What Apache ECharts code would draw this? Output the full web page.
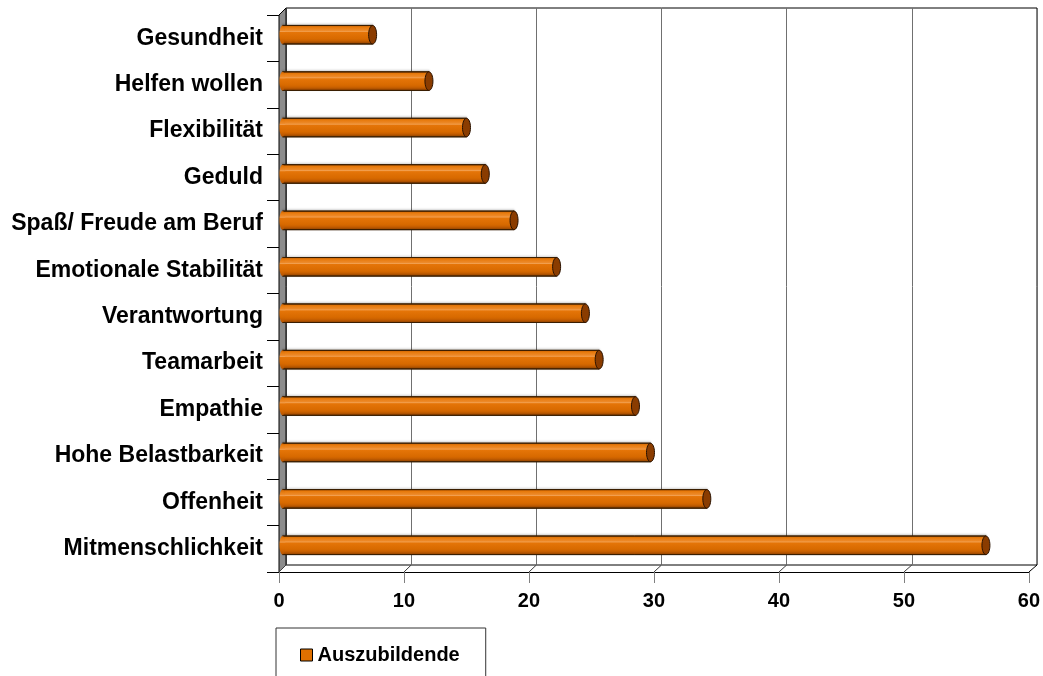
<!DOCTYPE html>
<html>
<head>
<meta charset="utf-8">
<script src="https://cdn.jsdelivr.net/npm/echarts@6/dist/echarts.min.js"></script>
<style>
html,body{margin:0;padding:0;background:#fff;}
#chart{width:1043px;height:676px;}
</style>
</head>
<body>
<div id="chart"></div>
<script>
// ---- data ----
const categories = ['Gesundheit','Helfen wollen','Flexibilität','Geduld','Spaß/ Freude am Beruf','Emotionale Stabilität','Verantwortung','Teamarbeit','Empathie','Hohe Belastbarkeit','Offenheit','Mitmenschlichkeit'];
const values = [7.2, 11.7, 14.7, 16.2, 18.5, 21.9, 24.2, 25.3, 28.2, 29.4, 33.9, 56.2];
const seriesName = 'Auszubildende';
const xTicks = [0, 10, 20, 30, 40, 50, 60];

// ---- layout ----
const W = 751, H = 557, D = 7;
const FRONT = {left: 279, top: 15};
const BACK = {left: FRONT.left + D, top: FRONT.top - D};
const MID = {left: FRONT.left + D / 2, top: FRONT.top - D / 2};
const font = 'Arial, "Liberation Sans", sans-serif';

const chart = echarts.init(document.getElementById('chart'), null, {renderer: 'canvas'});

const barGrad = new echarts.graphic.LinearGradient(0, 0, 0, 1, [
  {offset: 0, color: '#c85e00'},
  {offset: 0.12, color: '#e77a0c'},
  {offset: 0.28, color: '#ed8a2a'},
  {offset: 0.33, color: '#f2a050'},
  {offset: 0.38, color: '#e57508'},
  {offset: 0.7, color: '#d86a00'},
  {offset: 1, color: '#b35200'}
]);

function renderBar(params, api) {
  const idx = api.value(0);
  const v = api.value(1);
  const p0 = api.coord([0, idx]);
  const p1 = api.coord([v, idx]);
  const bh = api.size([0, 1])[1] * 0.4;
  const y = p0[1] - bh / 2;
  return {
    type: 'group',
    children: [
      {type: 'rect', shape: {x: p0[0], y: y, width: p1[0] - p0[0], height: bh},
        style: {fill: barGrad, stroke: '#3a1e00', lineWidth: 1, shadowColor: 'rgba(0,0,0,0.25)', shadowBlur: 2, shadowOffsetY: -1}},
      {type: 'ellipse', shape: {cx: p0[0], cy: p0[1], rx: 3, ry: bh / 2},
        style: {fill: barGrad, stroke: null}},
      {type: 'ellipse', shape: {cx: p1[0], cy: p1[1], rx: 4, ry: bh / 2},
        style: {fill: '#8a3c00', stroke: '#2a1200', lineWidth: 1}}
    ]
  };
}

const option = {
  backgroundColor: '#fff',
  animation: false,
  grid: [
    {left: BACK.left, top: BACK.top, width: W, height: H, show: true, borderColor: '#000', borderWidth: 1, backgroundColor: 'transparent'},
    {left: FRONT.left, top: FRONT.top, width: W, height: H},
    {left: MID.left, top: MID.top, width: W, height: H}
  ],
  xAxis: [
    {gridIndex: 0, type: 'value', min: 0, max: 60, interval: 10,
      axisLine: {show: false}, axisTick: {show: false}, axisLabel: {show: false},
      splitLine: {show: true, lineStyle: {color: '#707070', width: 1}}},
    {gridIndex: 1, type: 'value', min: 0, max: 60, interval: 10,
      axisLine: {show: true, lineStyle: {color: '#000', width: 1}},
      axisTick: {show: true, length: 11, lineStyle: {color: '#808080'}},
      axisLabel: {show: true, margin: 19, color: '#000', fontWeight: 'bold', fontSize: 20, fontFamily: font,
        formatter: function (v) { return xTicks.indexOf(v) >= 0 ? String(v) : ''; }},
      splitLine: {show: false}},
    {gridIndex: 2, type: 'value', min: 0, max: 60, show: false}
  ],
  yAxis: [
    {gridIndex: 0, type: 'category', data: categories, inverse: true, show: false},
    {gridIndex: 1, type: 'category', data: categories, inverse: true,
      axisLine: {show: true, lineStyle: {color: '#000'}},
      axisTick: {show: true, length: 12, lineStyle: {color: '#000'}},
      axisLabel: {margin: 16, color: '#000', fontWeight: 'bold', fontSize: 23, fontFamily: font},
      splitLine: {show: false}},
    {gridIndex: 2, type: 'category', data: categories, inverse: true, show: false}
  ],
  legend: {
    left: 276, top: 628,
    padding: [17, 26, 40, 24],
    borderColor: '#333', borderWidth: 1,
    itemWidth: 12, itemHeight: 12, itemGap: 5,
    textStyle: {color: '#000', fontWeight: 'bold', fontSize: 20, fontFamily: font, lineHeight: 20},
    data: [{name: seriesName, icon: 'rect', itemStyle: {color: '#e07000', borderColor: '#000', borderWidth: 1}}]
  },
  series: [{
    name: seriesName,
    type: 'custom',
    xAxisIndex: 2, yAxisIndex: 2,
    itemStyle: {color: '#e07000'},
    renderItem: renderBar,
    data: values.map(function (v, i) { return [i, v]; }),
    z: 3
  }]
};
chart.setOption(option);

// 3D decorations derived from axes
const bottomFront = FRONT.top + H;
const els = [];
els.push({type: 'polygon', z: 1,
  shape: {points: [[FRONT.left, FRONT.top], [BACK.left, BACK.top], [BACK.left, BACK.top + H], [FRONT.left, bottomFront]]},
  style: {fill: '#8c8c8c', stroke: '#000', lineWidth: 1}});
xTicks.forEach(function (t) {
  const xf = chart.convertToPixel({xAxisIndex: 1}, t);
  const xb = chart.convertToPixel({xAxisIndex: 0}, t);
  els.push({type: 'line', z: 1, shape: {x1: xf, y1: bottomFront, x2: xb, y2: bottomFront - D},
    style: {stroke: t === 60 ? '#000' : '#404040', lineWidth: 1}});
});
chart.setOption({graphic: {elements: els}});
</script>
</body>
</html>
